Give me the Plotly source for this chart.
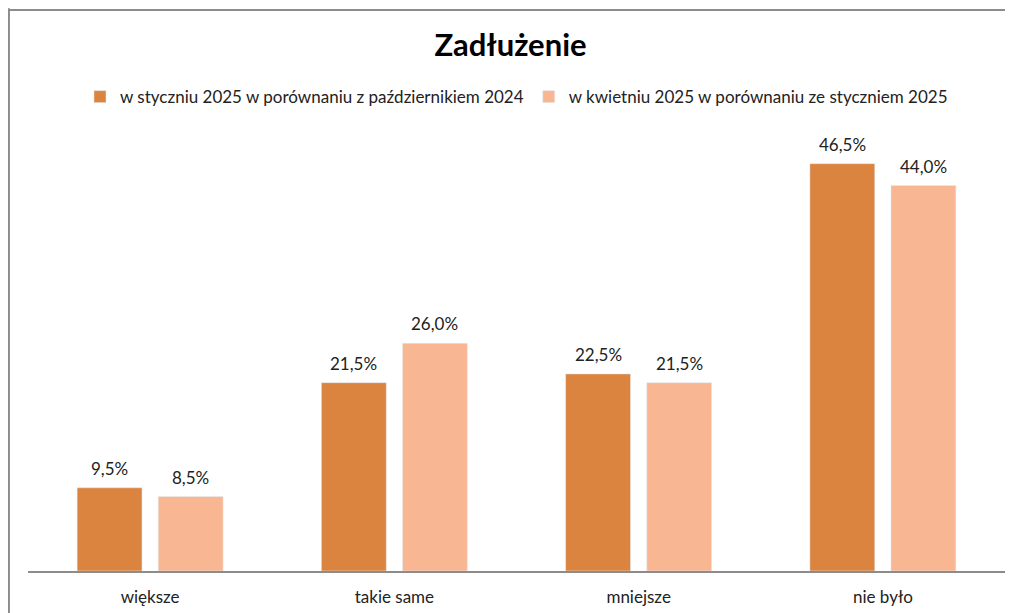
import plotly.graph_objects as go

categories = ["większe", "takie same", "mniejsze", "nie było"]
series_names = [
    "w styczniu 2025 w porównaniu z październikiem 2024",
    "w kwietniu 2025 w porównaniu ze styczniem 2025",
]
jan_2025 = [9.5, 21.5, 22.5, 46.5]
apr_2025 = [8.5, 26.0, 21.5, 44.0]
colors = ["#DA843F", "#F8B692"]

FONT = "Lato, 'Noto Sans', sans-serif"
BARGAP = 0.336


def pct_label(v):
    return f"{v:.1f}%".replace(".", ",")


fig = go.Figure()
for name, values, color in zip(series_names, [jan_2025, apr_2025], colors):
    fig.add_trace(go.Bar(x=categories, y=values, name=name, marker_color=color))

# value labels, placed a bit higher above the bars than plotly's default
half = (1 - BARGAP) / 4
for k, values in enumerate([jan_2025, apr_2025]):
    shift = -half if k == 0 else half
    for i, v in enumerate(values):
        fig.add_annotation(
            x=i + shift, y=v, xref="x", yref="y",
            text=pct_label(v), showarrow=False,
            yanchor="bottom", yshift=7,
            font=dict(size=17, color="#222222"),
        )

# grey frame of the original chart (left and top edges)
frame = dict(color="#8C8C8C", width=2)
fig.add_shape(type="line", xref="paper", yref="paper",
              x0=-0.0195, x1=-0.0195, y0=-0.2, y1=1.285, line=frame)
fig.add_shape(type="line", xref="paper", yref="paper",
              x0=-0.0195, x1=1.02, y0=1.281, y1=1.281, line=frame)

# the page body adds an 8px margin, so the figure is drawn 8px smaller
fig.update_layout(
    width=1005,
    height=605,
    margin=dict(l=20, r=8, t=125, b=42, autoexpand=False),
    paper_bgcolor="white",
    plot_bgcolor="white",
    font=dict(family=FONT, size=17, color="#222222"),
    title=dict(
        text="<b>Zadłużenie</b>",
        x=0.5,
        xanchor="center",
        y=0.938,
        yanchor="middle",
        font=dict(size=31, color="black"),
    ),
    barmode="group",
    bargap=BARGAP,
    bargroupgap=0.2,
    showlegend=True,
    legend=dict(
        orientation="h",
        x=0.5,
        xanchor="center",
        y=1.082,
        yanchor="middle",
        font=dict(size=17, color="#222222"),
        itemwidth=30,
        traceorder="normal",
    ),
)

fig.update_xaxes(
    showline=True,
    linecolor="#8C8C8C",
    linewidth=1.5,
    ticks="",
    showgrid=False,
    automargin=False,
    tickfont=dict(size=17, color="#222222"),
    ticklabelstandoff=10,
)
fig.update_yaxes(
    range=[0, 50],
    visible=False,
    showgrid=False,
    zeroline=False,
    automargin=False,
)

fig.write_html("out.html")
